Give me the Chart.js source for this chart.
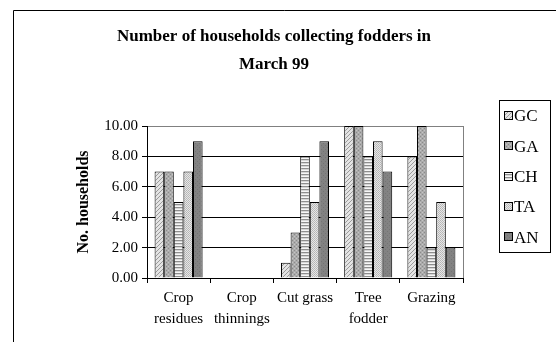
<!DOCTYPE html>
<html>
<head>
<meta charset="utf-8">
<script src="https://cdn.jsdelivr.net/npm/chart.js@4/dist/chart.umd.min.js"></script>
<style>
  html, body { margin: 0; padding: 0; background: #fff; }
  #wrap { position: relative; width: 556px; height: 342px; overflow: hidden; }
  canvas { display: block; }
</style>
</head>
<body>
<div id="wrap"><canvas id="c" width="556" height="342"></canvas></div>
<script>
// Fodder categories on the x axis
const categories = [['Crop', 'residues'], ['Crop', 'thinnings'], 'Cut grass', ['Tree', 'fodder'], 'Grazing'];

// Households per site (GC, GA, CH, TA, AN)
const seriesNames = ['GC', 'GA', 'CH', 'TA', 'AN'];
const gcValues = [7, 0, 1, 10, 8];
const gaValues = [7, 0, 3, 10, 10];
const chValues = [5, 0, 8, 8, 2];
const taValues = [7, 0, 5, 9, 5];
const anValues = [9, 0, 9, 7, 2];

const yTicks = [0, 2, 4, 6, 8, 10];

const chartTitle = ['Number of households collecting fodders in', 'March 99'];
const yTitle = 'No. households';

const SERIF = "'Liberation Serif', 'Times New Roman', serif";

// Small repeating fills for the bars
function makePattern(w, h, draw) {
  const c = document.createElement('canvas');
  c.width = w; c.height = h;
  const g = c.getContext('2d');
  draw(g);
  return g.createPattern(c, 'repeat');
}
function px(g, x, y, col) { g.fillStyle = col; g.fillRect(x, y, 1, 1); }

const fills = [
  // GC: light diagonal hatch
  makePattern(4, 4, g => {
    g.fillStyle = '#e4e4e4'; g.fillRect(0, 0, 4, 4);
    for (let i = 0; i < 4; i++) px(g, i, 3 - i, '#9a9a9a');
  }),
  // GA: medium grey speckle
  makePattern(4, 4, g => {
    g.fillStyle = '#ababab'; g.fillRect(0, 0, 4, 4);
    px(g, 0, 0, '#8a8a8a'); px(g, 2, 2, '#8a8a8a');
    px(g, 2, 0, '#c4c4c4'); px(g, 0, 2, '#c4c4c4');
  }),
  // CH: horizontal stripes
  makePattern(1, 3, g => {
    px(g, 0, 0, '#8e8e8e'); px(g, 0, 1, '#d6d6d6'); px(g, 0, 2, '#f6f6f6');
  }),
  // TA: light dotted
  makePattern(2, 2, g => {
    g.fillStyle = '#e6e6e6'; g.fillRect(0, 0, 2, 2);
    px(g, 0, 0, '#b4b4b4'); px(g, 1, 1, '#bcbcbc');
  }),
  // AN: dark grey
  makePattern(4, 4, g => {
    g.fillStyle = '#828282'; g.fillRect(0, 0, 4, 4);
    px(g, 1, 1, '#747474'); px(g, 3, 3, '#747474');
  })
];

const seriesValues = [gcValues, gaValues, chValues, taValues, anValues];
const datasets = seriesNames.map((name, i) => ({
  label: name,
  data: seriesValues[i],
  backgroundColor: fills[i],
  borderColor: '#000',
  borderWidth: 1,
  categoryPercentage: 0.76,
  barPercentage: 1.0
}));

// Frame, headings, plot-area outline and the boxed legend
const decorations = {
  id: 'decorations',
  beforeDraw(chart) {
    const ctx = chart.ctx;
    ctx.save();
    ctx.fillStyle = '#fff';
    ctx.fillRect(0, 0, chart.width, chart.height);
    ctx.strokeStyle = '#000';
    ctx.lineWidth = 1;
    ctx.beginPath();
    ctx.moveTo(13.5, chart.height);
    ctx.lineTo(13.5, 10.5);
    ctx.lineTo(chart.width, 10.5);
    ctx.stroke();
    ctx.restore();
  },
  afterDraw(chart) {
    const ctx = chart.ctx;
    const a = chart.chartArea;
    ctx.save();

    // right edge of the plot area
    ctx.strokeStyle = '#808080';
    ctx.lineWidth = 1;
    ctx.beginPath();
    ctx.moveTo(Math.round(a.right) + 0.5, a.top);
    ctx.lineTo(Math.round(a.right) + 0.5, a.bottom);
    ctx.stroke();

    // title
    ctx.fillStyle = '#000';
    ctx.font = 'bold 17px ' + SERIF;
    ctx.textAlign = 'center';
    ctx.textBaseline = 'middle';
    ctx.fillText(chartTitle[0], 274, 37);
    ctx.fillText(chartTitle[1], 274, 65);

    // y axis title
    ctx.save();
    ctx.translate(84, (a.top + a.bottom) / 2);
    ctx.rotate(-Math.PI / 2);
    ctx.font = 'bold 16px ' + SERIF;
    ctx.fillText(yTitle, 0, 0);
    ctx.restore();

    // legend
    const lx = 499.5, ly = 100.5, lw = 51, lh = 152;
    ctx.strokeStyle = '#000';
    ctx.strokeRect(lx, ly, lw, lh);
    ctx.font = '17px ' + SERIF;
    ctx.textAlign = 'left';
    chart.data.datasets.forEach((ds, i) => {
      const cy = 116 + i * 30.3;
      ctx.fillStyle = ds.backgroundColor;
      ctx.fillRect(504, Math.round(cy) - 5, 9, 9);
      ctx.strokeStyle = '#000';
      ctx.strokeRect(504.5, Math.round(cy) - 4.5, 8, 8);
      ctx.fillStyle = '#000';
      ctx.fillText(ds.label, 514, cy + 1);
    });
    ctx.restore();
  }
};

new Chart(document.getElementById('c'), {
  type: 'bar',
  data: { labels: categories, datasets },
  options: {
    responsive: false,
    animation: false,
    devicePixelRatio: 1,
    layout: { padding: { top: 126, right: 93, bottom: 0, left: 0 } },
    plugins: {
      legend: { display: false },
      title: { display: false },
      tooltip: { enabled: false }
    },
    scales: {
      x: {
        afterFit(scale) { scale.height = 64; },
        grid: {
          offset: true,
          drawOnChartArea: false,
          drawTicks: true,
          tickLength: 5,
          color: '#000'
        },
        border: { display: true, color: '#000', width: 1 },
        ticks: {
          color: '#000',
          padding: 5,
          maxRotation: 0,
          autoSkip: false,
          font: { family: SERIF, size: 15, lineHeight: 1.4 }
        }
      },
      y: {
        min: 0,
        max: 10,
        afterFit(scale) { scale.width = 147; },
        afterBuildTicks(scale) { scale.ticks = yTicks.map(v => ({ value: v })); },
        grid: {
          color: ctx => (ctx.tick && ctx.tick.value === 10 ? '#808080' : '#000'),
          tickColor: '#000',
          drawTicks: true,
          tickLength: 5,
          lineWidth: 1
        },
        border: { display: true, color: '#000', width: 1 },
        ticks: {
          color: '#000',
          padding: 4,
          font: { family: SERIF, size: 15 },
          callback: v => Number(v).toFixed(2)
        }
      }
    }
  },
  plugins: [decorations]
});
</script>
</body>
</html>
